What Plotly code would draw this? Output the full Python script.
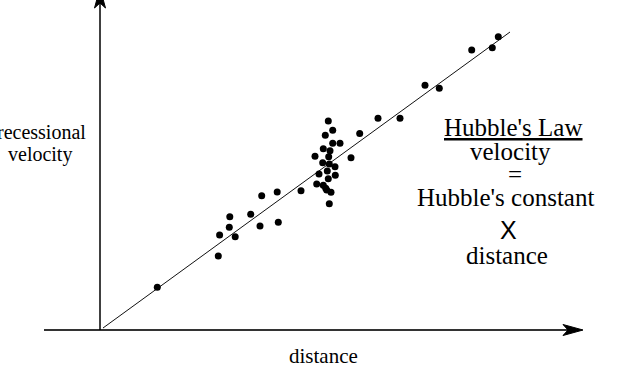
import plotly.graph_objects as go

# Galaxy measurements (arbitrary units)
distance = [5.73, 11.83, 11.96, 12.93, 12.98, 13.52, 15.07, 16.0, 16.17, 17.72,
            17.83, 20.1, 21.67, 21.9, 22.33, 22.57, 23.1, 22.93, 22.83, 22.73,
            23.53, 22.27, 22.93, 23.5, 21.5, 22.87, 25.1, 22.33, 23.0, 23.27,
            24.0, 22.53, 23.27, 22.83, 25.97, 27.8, 30.0, 32.5, 33.93, 37.17,
            39.23, 39.83, 22.67]
velocity = [4.27, 7.40, 9.50, 10.27, 11.33, 9.33, 11.57, 10.4, 13.42, 13.8,
            10.77, 13.93, 14.6, 15.6, 14.47, 14.17, 13.77, 12.63, 15.13, 15.9,
            15.47, 16.73, 16.6, 16.33, 17.37, 17.33, 17.23, 18.13, 17.93, 18.67,
            18.67, 19.47, 19.97, 20.9, 19.65, 21.17, 21.17, 24.47, 24.17, 28.0,
            28.23, 29.33, 14.0]

# Hubble's law line
fit_distance = [0.3, 41.0]
fit_velocity = [0.2, 29.8]

fig = go.Figure()
fig.add_trace(go.Scatter(x=fit_distance, y=fit_velocity, mode="lines",
                         line=dict(color="#111111", width=1), hoverinfo="skip"))
fig.add_trace(go.Scatter(x=distance, y=velocity, mode="markers",
                         marker=dict(color="black", size=7), hoverinfo="skip"))

shapes = [
    dict(type="line", xref="x", yref="y", x0=-5.6, x1=47.0, y0=0, y1=0,
         line=dict(color="#333333", width=2)),
    dict(type="line", xref="x", yref="y", x0=0, x1=0, y0=0, y1=33.0,
         line=dict(color="black", width=1.5)),
    dict(type="path", xref="x", yref="y", xsizemode="pixel", ysizemode="pixel",
         xanchor=48.3, yanchor=0,
         path="M0,0 L-20,5.5 L-15,0 L-20,-5.5 Z",
         fillcolor="black", line=dict(color="black", width=1)),
    dict(type="path", xref="x", yref="y", xsizemode="pixel", ysizemode="pixel",
         xanchor=0, yanchor=34.2,
         path="M0,0 L-5.5,-20 L0,-15 L5.5,-20 Z",
         fillcolor="black", line=dict(color="black", width=1)),
]

serif = "Liberation Serif"
sans = "Liberation Sans"

def ann(text, x, y, size, family=serif):
    return dict(text=text, x=x, y=y, xref="x", yref="y", showarrow=False,
                xanchor="center", yanchor="middle",
                font=dict(family=family, size=size, color="black"))

annotations = [
    ann("<u>Hubble's Law</u>", 41.33, 20.25, 25),
    ann("velocity", 41.0, 17.85, 25),
    ann("=", 41.45, 15.55, 25),
    ann("Hubble's constant", 40.57, 13.3, 25),
    ann("X", 40.87, 10.0, 25, sans),
    ann("distance", 40.67, 7.5, 25),
    ann("recessional", -5.9, 19.8, 20),
    ann("velocity", -6.0, 17.6, 20),
    ann("distance", 22.3, -2.6, 21),
]

fig.update_layout(
    width=640, height=370,
    margin=dict(l=0, r=0, t=0, b=0),
    paper_bgcolor="white", plot_bgcolor="white",
    showlegend=False,
    xaxis=dict(range=[-10, 54], visible=False, fixedrange=True),
    yaxis=dict(range=[-4, 33], visible=False, fixedrange=True),
    shapes=shapes,
    annotations=annotations,
)

fig.write_html("out.html")
